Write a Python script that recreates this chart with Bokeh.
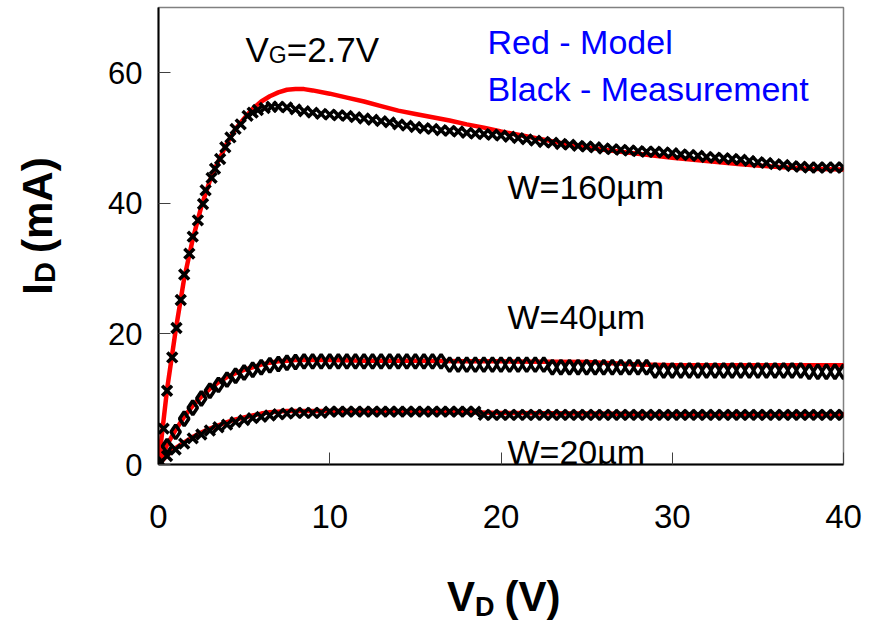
from bokeh.plotting import figure
from bokeh.models import Range1d, FixedTicker, Label, Div
from bokeh.layouts import row, column
from bokeh.embed import file_html
from bokeh.resources import INLINE

# ---------------- data ----------------
X_TICKS = [0, 10, 20, 30, 40]
Y_TICKS = [0, 20, 40, 60]

# Measurement W=160um
V_160_MEAS = [0, 0.3, 0.5, 0.8, 1.05, 1.3, 1.5, 1.8, 2.0, 2.3, 2.6, 2.75, 3.1, 3.3, 3.6, 3.9,
              4.2, 4.5, 4.8, 5.2, 5.5, 5.8, 6.2, 6.6, 7.0,
              7.5, 8.0, 8.5, 9.0, 9.5, 10.0, 10.5, 11.0, 11.5, 12.0, 12.5, 13.0, 13.5, 14.0,
              14.5, 15.0, 15.5, 16.0, 16.5, 17.0, 17.5, 18.0, 18.5, 19.0, 19.5, 20.0, 20.5,
              21.0, 21.5, 22.0, 22.5, 23.0, 23.5, 24.0, 24.5, 25.0, 25.5, 26.0, 26.5, 27.0,
              27.5, 28.0, 28.5, 29.0, 29.5, 30.0, 30.5, 31.0, 31.5, 32.0, 32.5, 33.0, 33.5,
              34.0, 34.5, 35.0, 35.5, 36.0, 36.5, 37.0, 37.5, 38.0, 38.5, 39.0, 39.5, 40.0]
I_160_MEAS = [0, 5.5, 11.3, 16.4, 20.9, 25.2, 29.1, 32.3, 34.9, 37.4, 39.9, 42.0, 43.9, 45.3, 46.8, 48.6,
              50.1, 51.4, 52.1, 53.4, 53.9, 54.3, 54.6, 54.8, 54.8,
              54.7, 54.4, 54.1, 53.9, 53.7, 53.6, 53.5, 53.4, 53.2, 53.0, 52.8, 52.6, 52.4, 52.1,
              51.9, 51.7, 51.5, 51.4, 51.2, 51.1, 51.0, 50.8, 50.7, 50.6, 50.5, 50.4, 50.2,
              50.0, 49.8, 49.6, 49.4, 49.3, 49.1, 49.0, 48.8, 48.7, 48.6, 48.4, 48.3, 48.2,
              48.1, 48.0, 47.9, 47.9, 47.8, 47.7, 47.5, 47.4, 47.3, 47.1, 47.0, 46.9, 46.8,
              46.7, 46.5, 46.3, 46.2, 46.0, 45.9, 45.7, 45.6, 45.5, 45.5, 45.5, 45.5, 45.5]

# Measurement grid for W=40um and W=20um
V_MEAS = [0.0, 0.5, 1.0, 1.5, 2.0, 2.5, 3.0, 3.5, 4.0, 4.5, 5.0, 5.5, 6.0, 6.5, 7.0, 7.5, 8.0,
          8.5, 9.0, 9.5, 10.0, 10.5, 11.0, 11.5, 12.0, 12.5, 13.0, 13.5, 14.0, 14.5, 15.0, 15.5,
          16.0, 16.5, 17.0, 17.5, 18.0, 18.5, 19.0, 19.5, 20.0, 20.5, 21.0, 21.5, 22.0, 22.5,
          23.0, 23.5, 24.0, 24.5, 25.0, 25.5, 26.0, 26.5, 27.0, 27.5, 28.0, 28.5, 29.0, 29.5,
          30.0, 30.5, 31.0, 31.5, 32.0, 32.5, 33.0, 33.5, 34.0, 34.5, 35.0, 35.5, 36.0, 36.5,
          37.0, 37.5, 38.0, 38.5, 39.0, 39.5, 40.0]
I_40_MEAS = [0.0, 2.8, 5.0, 7.0, 8.7, 10.1, 11.3, 12.2, 13.0, 13.6, 14.1, 14.5, 14.9, 15.2, 15.4, 15.6, 15.7,
             15.8, 15.8, 15.8, 15.8, 15.8, 15.8, 15.8, 15.8, 15.8, 15.8, 15.8, 15.8, 15.8, 15.8, 15.8,
             15.8, 15.8, 15.3, 15.3, 15.3, 15.3, 15.3, 15.3, 15.3, 15.3, 15.3, 15.3, 15.3, 15.3,
             14.9, 14.9, 14.9, 14.9, 14.9, 14.9, 14.9, 14.9, 14.9, 14.9, 14.9, 14.9, 14.4, 14.4,
             14.4, 14.4, 14.4, 14.4, 14.4, 14.4, 14.4, 14.4, 14.4, 14.4, 14.4, 14.4, 14.4, 14.4,
             14.4, 14.4, 14.2, 14.2, 14.2, 14.2, 14.2]
I_20_MEAS = [0.0, 1.3, 2.3, 3.2, 4.0, 4.6, 5.2, 5.7, 6.1, 6.5, 6.8, 7.1, 7.3, 7.5, 7.7, 7.8, 7.9,
             7.9, 7.9, 7.9, 8.1, 8.1, 8.1, 8.1, 8.1, 8.1, 8.1, 8.1, 8.1, 8.1, 8.1, 8.1,
             8.1, 8.1, 8.1, 8.1, 8.1, 8.1, 7.6, 7.6, 7.6, 7.6, 7.6, 7.6, 7.6, 7.6,
             7.6, 7.6, 7.6, 7.6, 7.6, 7.6, 7.6, 7.6, 7.6, 7.6, 7.6, 7.6, 7.6, 7.6,
             7.6, 7.6, 7.6, 7.6, 7.6, 7.6, 7.6, 7.6, 7.6, 7.6, 7.6, 7.6, 7.6, 7.6,
             7.6, 7.6, 7.6, 7.6, 7.6, 7.6, 7.6]

# Model curves
V_160_MODEL = [0, 0.5, 1, 1.5, 2, 2.5, 3, 3.5, 4, 4.5, 5, 5.5, 6, 6.5, 7, 7.5, 8, 8.5, 9, 10, 11,
               12, 13, 14, 15, 16, 17, 18, 19, 20, 22, 24, 26, 28, 30, 32, 34, 36, 38, 40]
I_160_MODEL = [0, 11.5, 20.5, 28.5, 34.5, 39.5, 43.5, 46.5, 49.2, 51.4, 53.0, 54.5, 55.6, 56.4, 57.0,
               57.4, 57.5, 57.5, 57.3, 56.8, 56.2, 55.6, 54.9, 54.2, 53.7, 53.2, 52.7, 52.1, 51.6,
               51.0, 50.0, 49.0, 48.2, 47.6, 47.0, 46.5, 46.0, 45.6, 45.3, 45.2]
V_40_MODEL = [0, 0.5, 1, 1.5, 2, 2.5, 3, 3.5, 4, 4.5, 5, 5.5, 6, 6.5, 7, 7.5, 8, 9, 10, 12, 15,
              18, 20, 25, 28, 30, 35, 40]
I_40_MODEL = [0, 3.0, 5.3, 7.3, 9.0, 10.4, 11.6, 12.6, 13.4, 14.0, 14.5, 14.9, 15.3, 15.6, 15.8,
              15.9, 16.0, 16.0, 16.0, 15.9, 15.9, 15.8, 15.8, 15.7, 15.3, 15.2, 15.2, 15.2]
V_20_MODEL = [0, 0.5, 1, 1.5, 2, 2.5, 3, 3.5, 4, 4.5, 5, 5.5, 6, 6.5, 7, 7.5, 8, 9, 10, 12, 15,
              18, 20, 25, 30, 35, 40]
I_20_MODEL = [0, 1.4, 2.5, 3.4, 4.2, 4.9, 5.5, 6.0, 6.5, 6.9, 7.2, 7.5, 7.8, 8.0, 8.1, 8.2, 8.2,
              8.2, 8.2, 8.2, 8.1, 8.0, 7.9, 7.8, 7.7, 7.7, 7.7]

# ---------------- layout sizes ----------------
W, H = 884, 622
LEFT_DIV_W = 70
BOTTOM_DIV_H = 62
FIG_W, FIG_H = W - LEFT_DIV_W, H - BOTTOM_DIV_H
L, R, T, B = 88, 41, 7, 96
XMIN, XMAX, YMIN, YMAX = 0, 40, 0, 70
FONT = "Liberation Sans"

p = figure(width=FIG_W, height=FIG_H, output_backend="svg", toolbar_location=None,
           x_range=Range1d(XMIN, XMAX), y_range=Range1d(YMIN, YMAX),
           min_border_left=L, min_border_right=R, min_border_top=T, min_border_bottom=B)
p.background_fill_color = "white"
p.border_fill_color = "white"
p.outline_line_color = "#808080"
p.outline_line_width = 1.5
p.xgrid.visible = False
p.ygrid.visible = False

for ax, ticks in ((p.xaxis[0], X_TICKS), (p.yaxis[0], Y_TICKS)):
    ax.ticker = FixedTicker(ticks=ticks)
    ax.minor_tick_line_color = None
    ax.major_tick_in = 12
    ax.major_tick_out = 0
    ax.major_tick_line_color = "#404040"
    ax.major_tick_line_width = 1
    ax.axis_line_color = "black"
    ax.axis_line_width = 2
    ax.major_label_text_font = FONT
    ax.major_label_text_color = "black"
p.xaxis.major_label_text_font_size = "33px"
p.yaxis.major_label_text_font_size = "31px"
p.xaxis.major_label_standoff = 40
p.yaxis.major_label_standoff = 16

# model curves (red)
for vx, iy in ((V_160_MODEL, I_160_MODEL), (V_40_MODEL, I_40_MODEL), (V_20_MODEL, I_20_MODEL)):
    p.line(vx, iy, line_color="#FF0000", line_width=4.5, line_join="round", line_cap="round")

# measurements (black)
p.scatter(V_160_MEAS, I_160_MEAS, marker="x", size=14, line_color="black", line_width=3.5)
p.scatter(V_MEAS, I_40_MEAS, marker="diamond", size=14, line_color="black", line_width=3.5,
          fill_color=None)
p.scatter(V_MEAS, I_20_MEAS, marker="x", size=14, line_color="black", line_width=3.5)

# ---------------- in-frame annotations (pixel -> data helpers) ----------------
fw = FIG_W - L - R
fh = FIG_H - T - B


def dx(px):
    # px measured on the full 884-wide page
    return XMIN + (px - LEFT_DIV_W - L) / fw * (XMAX - XMIN)


def dy(py):
    return YMIN + (T + fh - py) / fh * (YMAX - YMIN)


def lab(px, py, text, size, color="black", style="normal"):
    p.add_layout(Label(x=dx(px), y=dy(py), text=text, text_font=FONT,
                       text_font_size=f"{size}px", text_color=color, text_font_style=style,
                       text_align="left", text_baseline="alphabetic"))


# V_G = 2.7V
lab(245, 48.5, "V", 35)
lab(268.3, 54.5, "G", 23)
lab(286.2, 48.5, "=2.7V", 35)

# legend texts
lab(487, 41.7, "Red - Model", 34, color="#0000FF")
lab(487, 88.3, "Black - Measurement", 34, color="#0000FF")

# width labels
lab(507, 186.7, "W=160µm", 34)
lab(507, 316.7, "W=40µm", 34)
lab(507, 451.7, "W=20µm", 34)

# ---------------- axis titles (HTML text in side Divs) ----------------
ylab_html = (
    f'<div style="position:relative;width:{LEFT_DIV_W}px;height:{H}px;">'
    f'<span style="position:absolute;left:38px;top:226px;'
    f'transform:translate(-50%,-50%) rotate(-90deg);white-space:nowrap;'
    f"font-family:'{FONT}';font-weight:bold;font-size:42px;line-height:1;color:black;\">"
    'I<span style="font-size:29px;position:relative;top:3px;">D</span>'
    '<span style="margin-left:9px;">(mA)</span></span></div>'
)
xlab_html = (
    f'<div style="position:relative;width:{FIG_W}px;height:{BOTTOM_DIV_H}px;">'
    f'<span style="position:absolute;left:{447 - LEFT_DIV_W}px;top:16px;white-space:nowrap;'
    f"font-family:'{FONT}';font-weight:bold;font-size:42px;line-height:1;color:black;\">"
    'V<span style="font-size:27px;position:relative;top:5px;">D</span>'
    '<span style="margin-left:10px;">(V)</span></span></div>'
)

ydiv = Div(text=ylab_html, width=LEFT_DIV_W, height=H, margin=0)
xdiv = Div(text=xlab_html, width=FIG_W, height=BOTTOM_DIV_H, margin=0)

page = row(ydiv, column(p, xdiv, spacing=0, margin=0), spacing=0, margin=0)

open("out.html", "w").write(file_html(page, INLINE))
